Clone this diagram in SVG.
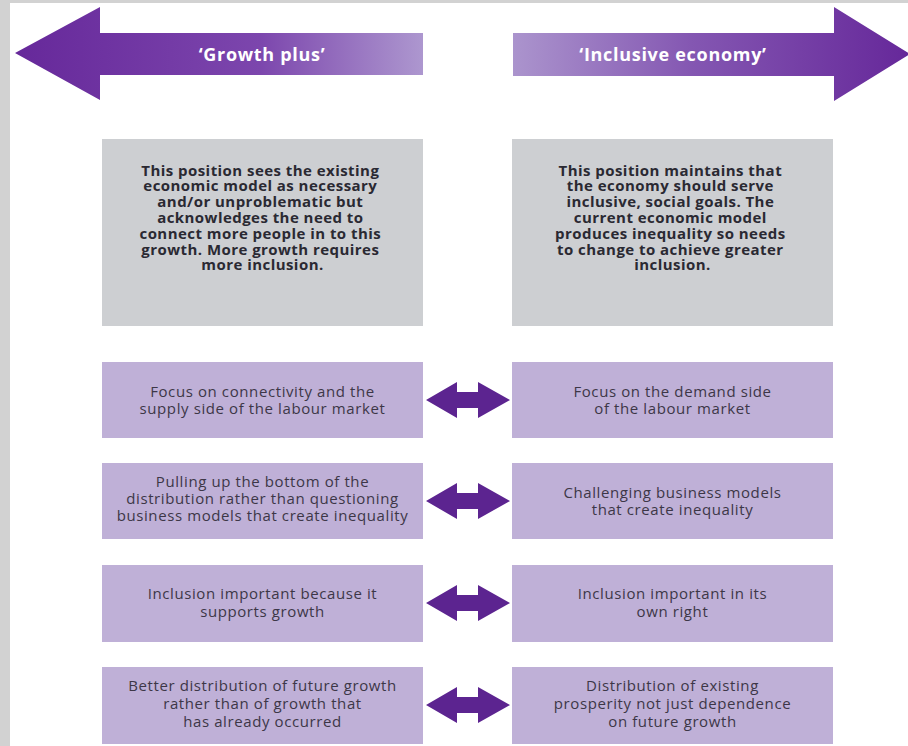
<svg xmlns="http://www.w3.org/2000/svg" width="908" height="746" viewBox="0 0 908 746">
  <defs>
    <linearGradient id="gl" x1="15" y1="0" x2="423" y2="0" gradientUnits="userSpaceOnUse">
      <stop offset="0" stop-color="#66289a"/>
      <stop offset="0.6" stop-color="#7c46ad"/>
      <stop offset="1" stop-color="#ad97cf"/>
    </linearGradient>
    <linearGradient id="gr" x1="513" y1="0" x2="908" y2="0" gradientUnits="userSpaceOnUse">
      <stop offset="0" stop-color="#ab94cd"/>
      <stop offset="0.45" stop-color="#8457b2"/>
      <stop offset="1" stop-color="#66289a"/>
    </linearGradient>
  </defs>
  <style>
    .hdr { font-family: "Open Sans", "Liberation Sans", sans-serif; font-weight: bold; font-size: 18px; letter-spacing: 0.7px; fill: #ffffff; text-anchor: middle; }
    .grey { fill: #cdcfd2; }
    .gtxt { font-family: "Open Sans", "Liberation Sans", sans-serif; font-weight: bold; font-size: 15px; letter-spacing: 0.45px; fill: #2a2932; text-anchor: middle; }
    .lav { fill: #bfb0d7; }
    .ltxt { font-family: "Open Sans", "Liberation Sans", sans-serif; font-size: 15px; letter-spacing: 0.6px; fill: #3d3747; text-anchor: middle; }
    .dbl { fill: #5c2490; }
  </style>
  <rect x="0" y="0" width="908" height="746" fill="#d2d2d2"/>
  <rect x="10" y="3" width="898" height="743" fill="#ffffff"/>

  <g id="growth-plus-header">
    <polygon points="15,53 100,7 100,33 423,33 423,75 100,75 100,100" fill="url(#gl)"/>
    <text class="hdr" x="262" y="61">‘Growth plus’</text>
  </g>
  <g id="inclusive-economy-header">
    <polygon points="513,33 834,33 834,7 910,54 834,101 834,76 513,76" fill="url(#gr)"/>
    <text class="hdr" x="673" y="61">‘Inclusive economy’</text>
  </g>

  <g id="growth-plus-desc">
    <rect class="grey" x="102" y="139" width="321" height="187"/>
    <text class="gtxt" x="262.5" y="175.5">
      <tspan x="262.5" dy="0">This position sees the existing</tspan>
      <tspan x="262.5" dy="15.8">economic model as necessary</tspan>
      <tspan x="262.5" dy="15.8">and/or unproblematic but</tspan>
      <tspan x="262.5" dy="15.8">acknowledges the need to</tspan>
      <tspan x="262.5" dy="15.8">connect more people in to this</tspan>
      <tspan x="262.5" dy="15.8">growth. More growth requires</tspan>
      <tspan x="262.5" dy="15.8">more inclusion.</tspan>
    </text>
  </g>
  <g id="inclusive-economy-desc">
    <rect class="grey" x="512" y="139" width="321" height="187"/>
    <text class="gtxt" x="672.5" y="175.5">
      <tspan x="672.5" dy="0">This position maintains that</tspan>
      <tspan x="672.5" dy="15.8">the economy should serve</tspan>
      <tspan x="672.5" dy="15.8">inclusive, social goals. The</tspan>
      <tspan x="672.5" dy="15.8">current economic model</tspan>
      <tspan x="672.5" dy="15.8">produces inequality so needs</tspan>
      <tspan x="672.5" dy="15.8">to change to achieve greater</tspan>
      <tspan x="672.5" dy="15.8">inclusion.</tspan>
    </text>
  </g>

  <g id="row1-left">
    <rect class="lav" x="102" y="362" width="321" height="76"/>
    <text class="ltxt"><tspan x="262.5" y="396.5">Focus on connectivity and the</tspan><tspan x="262.5" y="413.5">supply side of the labour market</tspan></text>
  </g>
  <g id="row1-right">
    <rect class="lav" x="512" y="362" width="321" height="76"/>
    <text class="ltxt"><tspan x="672.5" y="396.5">Focus on the demand side</tspan><tspan x="672.5" y="413.5">of the labour market</tspan></text>
  </g>

  <g id="row2-left">
    <rect class="lav" x="102" y="463" width="321" height="76"/>
    <text class="ltxt"><tspan x="262.5" y="486.5">Pulling up the bottom of the</tspan><tspan x="262.5" y="503.5">distribution rather than questioning</tspan><tspan x="262.5" y="520.5">business models that create inequality</tspan></text>
  </g>
  <g id="row2-right">
    <rect class="lav" x="512" y="463" width="321" height="76"/>
    <text class="ltxt"><tspan x="672.5" y="497.5">Challenging business models</tspan><tspan x="672.5" y="514.5">that create inequality</tspan></text>
  </g>

  <g id="row3-left">
    <rect class="lav" x="102" y="565" width="321" height="77"/>
    <text class="ltxt"><tspan x="262.5" y="598.5">Inclusion important because it</tspan><tspan x="262.5" y="616.5">supports growth</tspan></text>
  </g>
  <g id="row3-right">
    <rect class="lav" x="512" y="565" width="321" height="77"/>
    <text class="ltxt"><tspan x="672.5" y="598.5">Inclusion important in its</tspan><tspan x="672.5" y="616.5">own right</tspan></text>
  </g>

  <g id="row4-left">
    <rect class="lav" x="102" y="667" width="321" height="77"/>
    <text class="ltxt"><tspan x="262.5" y="690.5">Better distribution of future growth</tspan><tspan x="262.5" y="708.5">rather than of growth that</tspan><tspan x="262.5" y="726.5">has already occurred</tspan></text>
  </g>
  <g id="row4-right">
    <rect class="lav" x="512" y="667" width="321" height="77"/>
    <text class="ltxt"><tspan x="672.5" y="690.5">Distribution of existing</tspan><tspan x="672.5" y="708.5">prosperity not just dependence</tspan><tspan x="672.5" y="726.5">on future growth</tspan></text>
  </g>

  <g id="connectors">
    <path class="dbl" d="M426,400 L457,382 L457,392 L478,392 L478,382 L510,400 L478,418 L478,408 L457,408 L457,418 Z"/>
    <path class="dbl" d="M426,501 L457,483 L457,493 L478,493 L478,483 L510,501 L478,519 L478,509 L457,509 L457,519 Z"/>
    <path class="dbl" d="M426,603 L457,585 L457,595 L478,595 L478,585 L510,603 L478,621 L478,611 L457,611 L457,621 Z"/>
    <path class="dbl" d="M426,705 L457,687 L457,697 L478,697 L478,687 L510,705 L478,723 L478,713 L457,713 L457,723 Z"/>
  </g>
</svg>
